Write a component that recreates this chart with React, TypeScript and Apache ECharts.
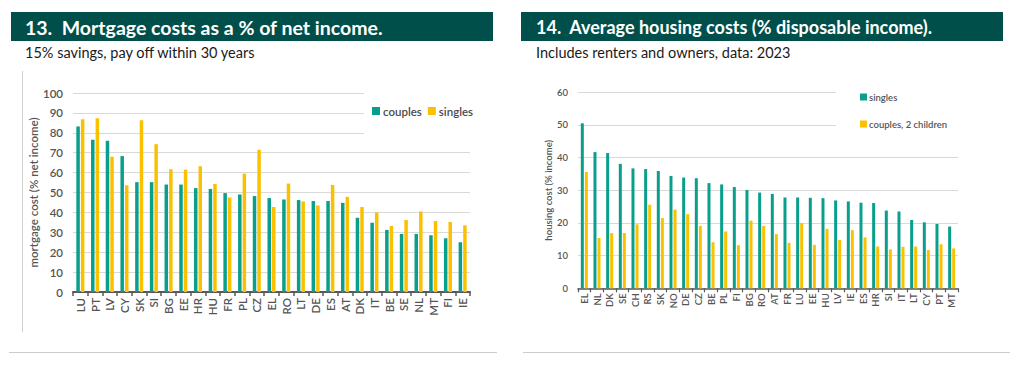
import React, { useEffect, useRef } from "react";
import * as echarts from "echarts";

const leftCats = ["LU","PT","LV","CY","SK","SI","BG","EE","HR","HU","FR","PL","CZ","EL","RO","LT","DE","ES","AT","DK","IT","BE","SE","NL","MT","FI","IE"];
const leftCouples = [83.2,76.5,76,68.3,55.2,55.2,54,54,52.2,51.8,49.7,49,48.2,47.2,46.5,46.2,45.7,45.7,44.8,37.3,34.8,31.2,29.2,29.2,28.5,27,25];
const leftSingles = [86.8,87.3,68,53.7,86.3,74.3,61.7,61.5,63.2,54.3,47.5,59.5,71.5,42.7,54.5,45.5,43.5,53.8,47.8,42.7,40,33.2,36.2,40.5,35.7,35.2,33.5];

const rightCats = ["EL","NL","DK","SE","CH","RS","SK","NO","DE","CZ","BE","PL","FI","BG","RO","AT","FR","LU","EE","HU","LV","IE","ES","HR","SI","IT","LT","CY","PT","MT"];
const rightSingles = [50.5,41.7,41.4,38.1,36.7,36.5,35.9,34.4,33.9,33.7,32.2,31.8,31.0,30.1,29.3,28.9,27.8,27.8,27.7,27.6,26.9,26.6,26.2,26.1,23.8,23.5,20.9,20.2,19.7,18.9];
const rightCouples2 = [35.6,15.4,16.9,16.9,19.6,25.6,21.5,24.1,22.7,19.1,14.1,17.4,13.2,20.7,19.1,16.6,13.9,20.0,13.3,18.2,14.8,17.8,15.6,12.8,11.9,12.7,12.8,11.7,13.5,12.2];

const leftTitle = "13.  Mortgage costs as a % of net income.";
const leftSub = "15% savings, pay off within 30 years";
const rightTitle = "14.  Average housing costs (% disposable income).";
const rightSub = "Includes renters and owners, data: 2023";

const TEAL = "#0a9f8c";
const GOLD = "#fbc100";
const DARK = "#004f4b";
const AXIS_TXT = "#555555";
const FONT = "Lato";

export default function App() {
  const ref = useRef<HTMLDivElement>(null);
  useEffect(() => {
    document.body.style.margin = "0";
    const chart = echarts.init(ref.current!, null, { renderer: "svg" });
    const option: any = {
      animation: false,
      backgroundColor: "#ffffff",
      textStyle: { fontFamily: FONT },
      grid: [
        { left: 73, right: 547, top: 93, bottom: 90, containLabel: false },
        { left: 578, right: 59, top: 92.3, bottom: 93.7, containLabel: false },
      ],
      legend: [
        {
          data: ["couples", "singles"],
          left: 364,
          top: 88,
          orient: "horizontal",
          backgroundColor: "#ffffff",
          padding: [17, 12, 17, 8],
          itemWidth: 8,
          itemHeight: 8,
          itemGap: 6,
          icon: "rect",
          textStyle: { color: "#4a4a4a", fontSize: 11.5, fontWeight: 600, fontFamily: FONT, padding: [0, 0, 0, -2] },
        },
        {
          data: ["singles ", "couples, 2 children"],
          left: 836,
          top: 86,
          orient: "vertical",
          backgroundColor: "#ffffff",
          padding: [6, 40, 8, 24],
          itemWidth: 7,
          itemHeight: 7,
          itemGap: 17,
          icon: "rect",
          textStyle: { color: "#555555", fontSize: 9.5, fontWeight: 600, fontFamily: FONT, padding: [0, 0, 0, -3] },
        },
      ],
      xAxis: [
        {
          type: "category",
          gridIndex: 0,
          data: leftCats,
          axisLine: { lineStyle: { color: "#595959", width: 2 } },
          axisTick: { show: true, length: 4, lineStyle: { color: "#595959", width: 1.5 } },
          axisLabel: { rotate: 90, interval: 0, color: AXIS_TXT, fontSize: 11.5, margin: 6, fontFamily: FONT, fontWeight: 600 },
        },
        {
          type: "category",
          gridIndex: 1,
          data: rightCats,
          axisLine: { lineStyle: { color: "#595959", width: 1.5 } },
          axisTick: { show: true, length: 4, lineStyle: { color: "#595959", width: 1.2 } },
          axisLabel: { rotate: 90, interval: 0, color: AXIS_TXT, fontSize: 9.5, margin: 5, fontFamily: FONT, fontWeight: 600 },
        },
      ],
      yAxis: [
        {
          type: "value",
          gridIndex: 0,
          min: 0,
          max: 100,
          interval: 10,
          name: "mortgage cost (% net income)",
          nameLocation: "middle",
          nameGap: 30,
          nameTextStyle: { color: AXIS_TXT, fontSize: 11.5, fontWeight: 600, fontFamily: FONT },
          axisLine: { show: false },
          axisTick: { show: false },
          axisLabel: { color: AXIS_TXT, fontSize: 11.5, margin: 10, fontFamily: FONT, fontWeight: 600 },
          splitLine: { lineStyle: { color: "#d9d9d9", width: 1 } },
        },
        {
          type: "value",
          gridIndex: 1,
          min: 0,
          max: 60,
          interval: 10,
          name: "housing cost (% income)",
          nameLocation: "middle",
          nameGap: 22,
          nameTextStyle: { color: AXIS_TXT, fontSize: 9.5, fontWeight: 600, fontFamily: FONT },
          axisLine: { show: false },
          axisTick: { show: false },
          axisLabel: { color: AXIS_TXT, fontSize: 9.5, margin: 10, fontFamily: FONT, fontWeight: 600 },
          splitLine: { lineStyle: { color: "#d9d9d9", width: 1 } },
        },
      ],
      series: [
        { name: "couples", type: "bar", xAxisIndex: 0, yAxisIndex: 0, data: leftCouples, itemStyle: { color: TEAL }, barWidth: 3.5, barGap: "30%" },
        { name: "singles", type: "bar", xAxisIndex: 0, yAxisIndex: 0, data: leftSingles, itemStyle: { color: GOLD }, barWidth: 3.5, barGap: "30%" },
        { name: "singles ", type: "bar", xAxisIndex: 1, yAxisIndex: 1, data: rightSingles, itemStyle: { color: TEAL }, barWidth: 3, barGap: "35%" },
        { name: "couples, 2 children", type: "bar", xAxisIndex: 1, yAxisIndex: 1, data: rightCouples2, itemStyle: { color: GOLD }, barWidth: 3, barGap: "35%" },
      ],
      graphic: [
        { type: "rect", shape: { x: 11, y: 12, width: 482, height: 29 }, style: { fill: DARK } },
        { type: "rect", shape: { x: 521, y: 12, width: 482, height: 29 }, style: { fill: DARK } },
        { type: "text", x: 25, y: 27, style: { text: leftTitle, fill: "#ffffff", font: `bold 19.5px ${FONT}`, verticalAlign: "middle" } },
        { type: "text", x: 536, y: 27, style: { text: rightTitle, fill: "#ffffff", font: `bold 18px ${FONT}`, verticalAlign: "middle" } },
        { type: "text", x: 25, y: 52, style: { text: leftSub, fill: "#1a1a1a", font: `14.5px ${FONT}`, verticalAlign: "middle" } },
        { type: "text", x: 536, y: 52, style: { text: rightSub, fill: "#1a1a1a", font: `14.5px ${FONT}`, verticalAlign: "middle" } },
        { type: "line", shape: { x1: 22.5, y1: 71, x2: 22.5, y2: 332 }, style: { stroke: "#d0d0d0", lineWidth: 1 } },
        { type: "line", shape: { x1: 9, y1: 352.5, x2: 497, y2: 352.5 }, style: { stroke: "#cccccc", lineWidth: 1 } },
        { type: "line", shape: { x1: 523, y1: 352.5, x2: 1010, y2: 352.5 }, style: { stroke: "#cccccc", lineWidth: 1 } },
      ],
    };
    chart.setOption(option);
    return () => chart.dispose();
  }, []);
  return <div ref={ref} style={{ width: 1017, height: 382, background: "#fff" }} />;
}
